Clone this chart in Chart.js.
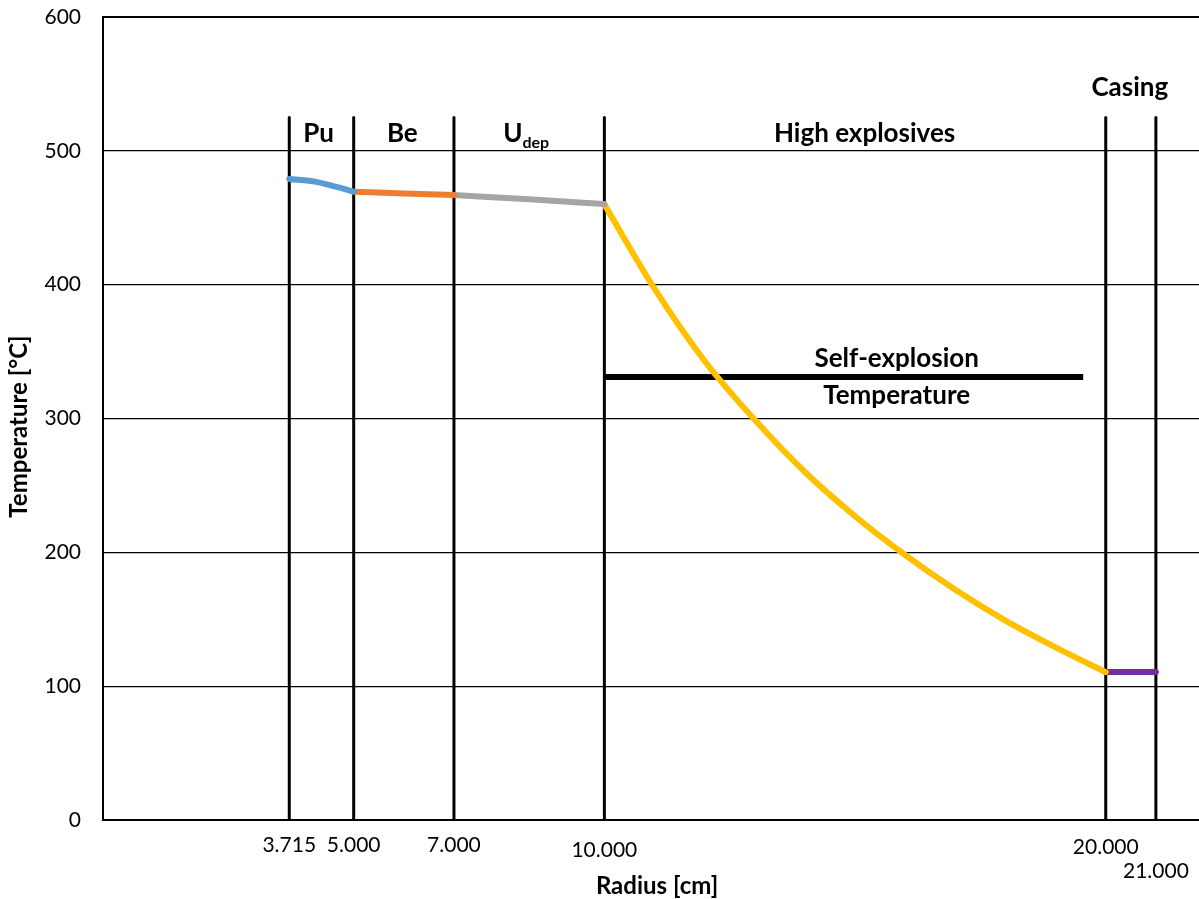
<!DOCTYPE html>
<html>
<head>
<meta charset="utf-8">
<script src="https://cdn.jsdelivr.net/npm/chart.js@4"></script>
<style>
  html, body { margin: 0; background: #fff; }
</style>
</head>
<body>
<canvas id="chart" width="1199" height="899"></canvas>
<script>
// layer boundaries (radius, cm) and their labels
const boundaries = [3.715, 5, 7, 10, 20, 21];
const boundaryLabels = ['3.715', '5.000', '7.000', '10.000', '20.000', '21.000'];
const boundaryTop = 525;

// temperature profiles per layer
const puR = [3.715, 4.25, 4.58, 5.0];
const puT = [479, 476.8, 473.8, 469.5];
const beR = [5, 6, 7];
const beT = [469.5, 468.2, 467];
const uR = [7, 8.5, 10];
const uT = [467, 463.8, 460.3];
const heR = [10, 11, 12, 13, 14, 15, 16, 17, 18, 19, 20];
const heT = [460, 397, 343, 299, 260, 227, 198, 172, 149, 129, 110.5];
const casingR = [20, 21];
const casingT = [110.5, 110.5];
const selfExplR = [10, 19.55];
const selfExplT = [331, 331];

const yTicks = [0, 100, 200, 300, 400, 500, 600];

const FONT = 'Lato, "Open Sans", sans-serif';

const toPoints = (r, t) => r.map((x, i) => ({ x: x, y: t[i] }));

const curve = (r, t, color, width) => ({
    data: toPoints(r, t),
    borderColor: color,
    borderWidth: width,
    borderCapStyle: 'round',
    pointRadius: 0,
    cubicInterpolationMode: 'monotone',
    fill: false
});

const datasets = [
    curve(puR, puT, '#5B9BD5', 6),
    curve(beR, beT, '#ED7D31', 6),
    curve(uR, uT, '#A5A5A5', 6),
    curve(heR, heT, '#FFC000', 6),
    curve(casingR, casingT, '#7030A0', 6),
    { data: toPoints(selfExplR, selfExplT), borderColor: '#000', borderWidth: 6, pointRadius: 0, fill: false }
];
boundaries.forEach(b => {
    datasets.push({
        data: [{ x: b, y: 0 }, { x: b, y: boundaryTop }],
        borderColor: '#000',
        borderWidth: 3,
        borderCapStyle: 'round',
        pointRadius: 0,
        fill: false
    });
});

const textPlugin = {
    id: 'texts',
    afterDraw(chart) {
        const { ctx, chartArea } = chart;
        const x = chart.scales.x, y = chart.scales.y;
        ctx.save();
        ctx.fillStyle = '#000';
        ctx.textAlign = 'center';
        ctx.textBaseline = 'middle';

        // x labels at the layer boundaries
        const dy = [0, 0, 0, 5, 2, 26];
        ctx.font = '21px ' + FONT;
        boundaries.forEach((b, i) => {
            ctx.fillText(boundaryLabels[i], x.getPixelForValue(b), chartArea.bottom + 25 + dy[i]);
        });

        // axis titles
        ctx.font = 'bold 24px ' + FONT;
        ctx.fillText('Radius [cm]', x.getPixelForValue(11.05), 886);
        ctx.save();
        ctx.translate(19, (chartArea.top + chartArea.bottom) / 2 + 8);
        ctx.rotate(-Math.PI / 2);
        ctx.fillText('Temperature [°C]', 0, 0);
        ctx.restore();

        // region names
        ctx.font = 'bold 26px ' + FONT;
        const put = (t, xv, yv) => ctx.fillText(t, x.getPixelForValue(xv), y.getPixelForValue(yv));
        put('Pu', 4.3, 513);
        put('Be', 5.97, 513);
        put('High explosives', 15.19, 513);
        put('Casing', 20.48, 547);
        put('Self-explosion', 15.83, 345);
        put('Temperature', 15.83, 317);

        // U with subscript "dep"
        ctx.textAlign = 'left';
        const wU = ctx.measureText('U').width;
        ctx.font = 'bold 16px ' + FONT;
        const wD = ctx.measureText('dep').width;
        const cx = x.getPixelForValue(8.44);
        const cy = y.getPixelForValue(513);
        const left = cx - (wU + wD) / 2;
        ctx.font = 'bold 26px ' + FONT;
        ctx.fillText('U', left, cy);
        ctx.font = 'bold 16px ' + FONT;
        ctx.fillText('dep', left + wU, cy + 9);
        ctx.restore();
    }
};

new Chart(document.getElementById('chart').getContext('2d'), {
    type: 'line',
    data: { datasets: datasets },
    options: {
        responsive: false,
        animation: false,
        layout: { padding: { top: 17, right: 0, bottom: 0, left: 0 } },
        plugins: { legend: { display: false }, tooltip: { enabled: false } },
        scales: {
            x: {
                type: 'linear',
                min: 0,
                max: 21.86,
                grid: { display: false },
                border: { display: true, color: '#000', width: 2 },
                ticks: { display: false },
                afterFit(scale) { scale.height = 79; scale.paddingLeft = 0; scale.paddingRight = 0; }
            },
            y: {
                min: 0,
                max: 600,
                afterBuildTicks(scale) { scale.ticks = yTicks.map(v => ({ value: v })); },
                ticks: { color: '#000', font: { family: FONT, size: 21 }, padding: 22 },
                grid: {
                    color: '#000',
                    lineWidth: ctx => (ctx.tick && ctx.tick.value === 600 ? 2 : 1.3),
                    drawTicks: false
                },
                border: { display: true, color: '#000', width: 2 },
                afterFit(scale) { scale.width = 103; scale.paddingTop = 0; scale.paddingBottom = 0; }
            }
        }
    },
    plugins: [textPlugin]
});
</script>
</body>
</html>
